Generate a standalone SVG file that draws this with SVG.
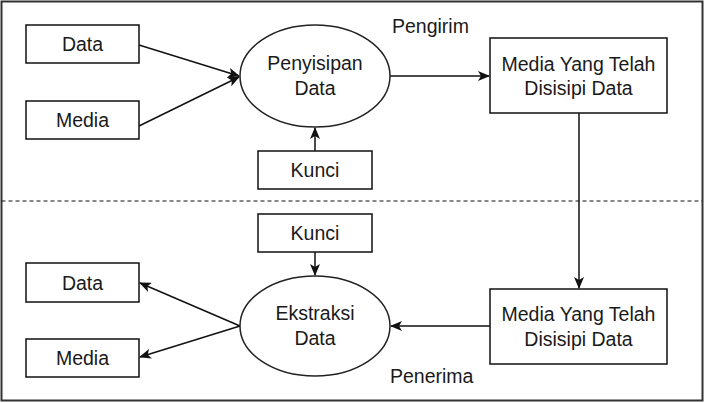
<svg xmlns="http://www.w3.org/2000/svg" width="706" height="403" viewBox="0 0 706 403">
<style>
.box{fill:#fff;stroke:#111;stroke-width:1.5}
.ell{fill:#fff;stroke:#222;stroke-width:1.5}
.t{font-family:"Liberation Sans",Arial,sans-serif;font-size:19.5px;fill:#1a1a1a;text-anchor:middle}
.lbl{font-family:"Liberation Sans",Arial,sans-serif;font-size:19.5px;fill:#1a1a1a}
.c{fill:none;stroke:#111;stroke-width:1.5;marker-end:url(#ah)}
</style>
<defs>
<marker id="ah" viewBox="0 0 12 10" refX="11" refY="5" markerWidth="12" markerHeight="10" markerUnits="userSpaceOnUse" orient="auto">
<path d="M0,0 L12,5 L0,10 L3,5 Z" fill="#111"/>
</marker>
</defs>
<rect x="0" y="0" width="706" height="403" fill="#fff"/>
<rect x="1.5" y="1.5" width="701" height="399" fill="none" stroke="#333" stroke-width="2"/>
<line x1="1.5" y1="201" x2="702" y2="201" stroke="#111" stroke-width="1" stroke-dasharray="4,3"/>
<g id="connectors">
<line class="c" x1="139" y1="45" x2="239" y2="76"/>
<line class="c" x1="139" y1="126" x2="239" y2="77"/>
<line class="c" x1="315" y1="151" x2="315" y2="128"/>
<line class="c" x1="390" y1="76" x2="489" y2="76"/>
<line class="c" x1="579" y1="113" x2="579" y2="288"/>
<line class="c" x1="315" y1="252" x2="315" y2="275"/>
<line class="c" x1="490" y1="326" x2="391" y2="326"/>
<line class="c" x1="240" y1="326" x2="140" y2="283"/>
<line class="c" x1="240" y1="326" x2="140" y2="357"/>
</g>
<g id="data1"><rect class="box" x="26" y="25" width="113" height="38"/><text class="t" x="82.5" y="51">Data</text></g>
<g id="media1"><rect class="box" x="26" y="101" width="113" height="38"/><text class="t" x="82.5" y="127">Media</text></g>
<g id="penyisipan"><ellipse class="ell" cx="315" cy="76" rx="75" ry="51"/><text class="t" x="315" y="70">Penyisipan</text><text class="t" x="315" y="94.5">Data</text></g>
<g id="kunci1"><rect class="box" x="258" y="151" width="114" height="38"/><text class="t" x="315" y="177">Kunci</text></g>
<g id="mediatelah1"><rect class="box" x="490" y="38" width="177" height="75"/><text class="t" x="578.5" y="70.5">Media Yang Telah</text><text class="t" x="578.5" y="95">Disisipi Data</text></g>
<g id="pengirim"><text class="lbl" x="392" y="33">Pengirim</text></g>
<g id="kunci2"><rect class="box" x="258" y="214" width="114" height="38"/><text class="t" x="315" y="240">Kunci</text></g>
<g id="ekstraksi"><ellipse class="ell" cx="315" cy="326" rx="75" ry="50"/><text class="t" x="315" y="320">Ekstraksi</text><text class="t" x="315" y="344.5">Data</text></g>
<g id="data2"><rect class="box" x="26" y="263" width="113" height="39"/><text class="t" x="82.5" y="289.5">Data</text></g>
<g id="media2"><rect class="box" x="26" y="339" width="113" height="38"/><text class="t" x="82.5" y="365">Media</text></g>
<g id="mediatelah2"><rect class="box" x="490" y="289" width="177" height="75"/><text class="t" x="578.5" y="321">Media Yang Telah</text><text class="t" x="578.5" y="345.5">Disisipi Data</text></g>
<g id="penerima"><text class="lbl" x="390" y="383">Penerima</text></g>
</svg>
